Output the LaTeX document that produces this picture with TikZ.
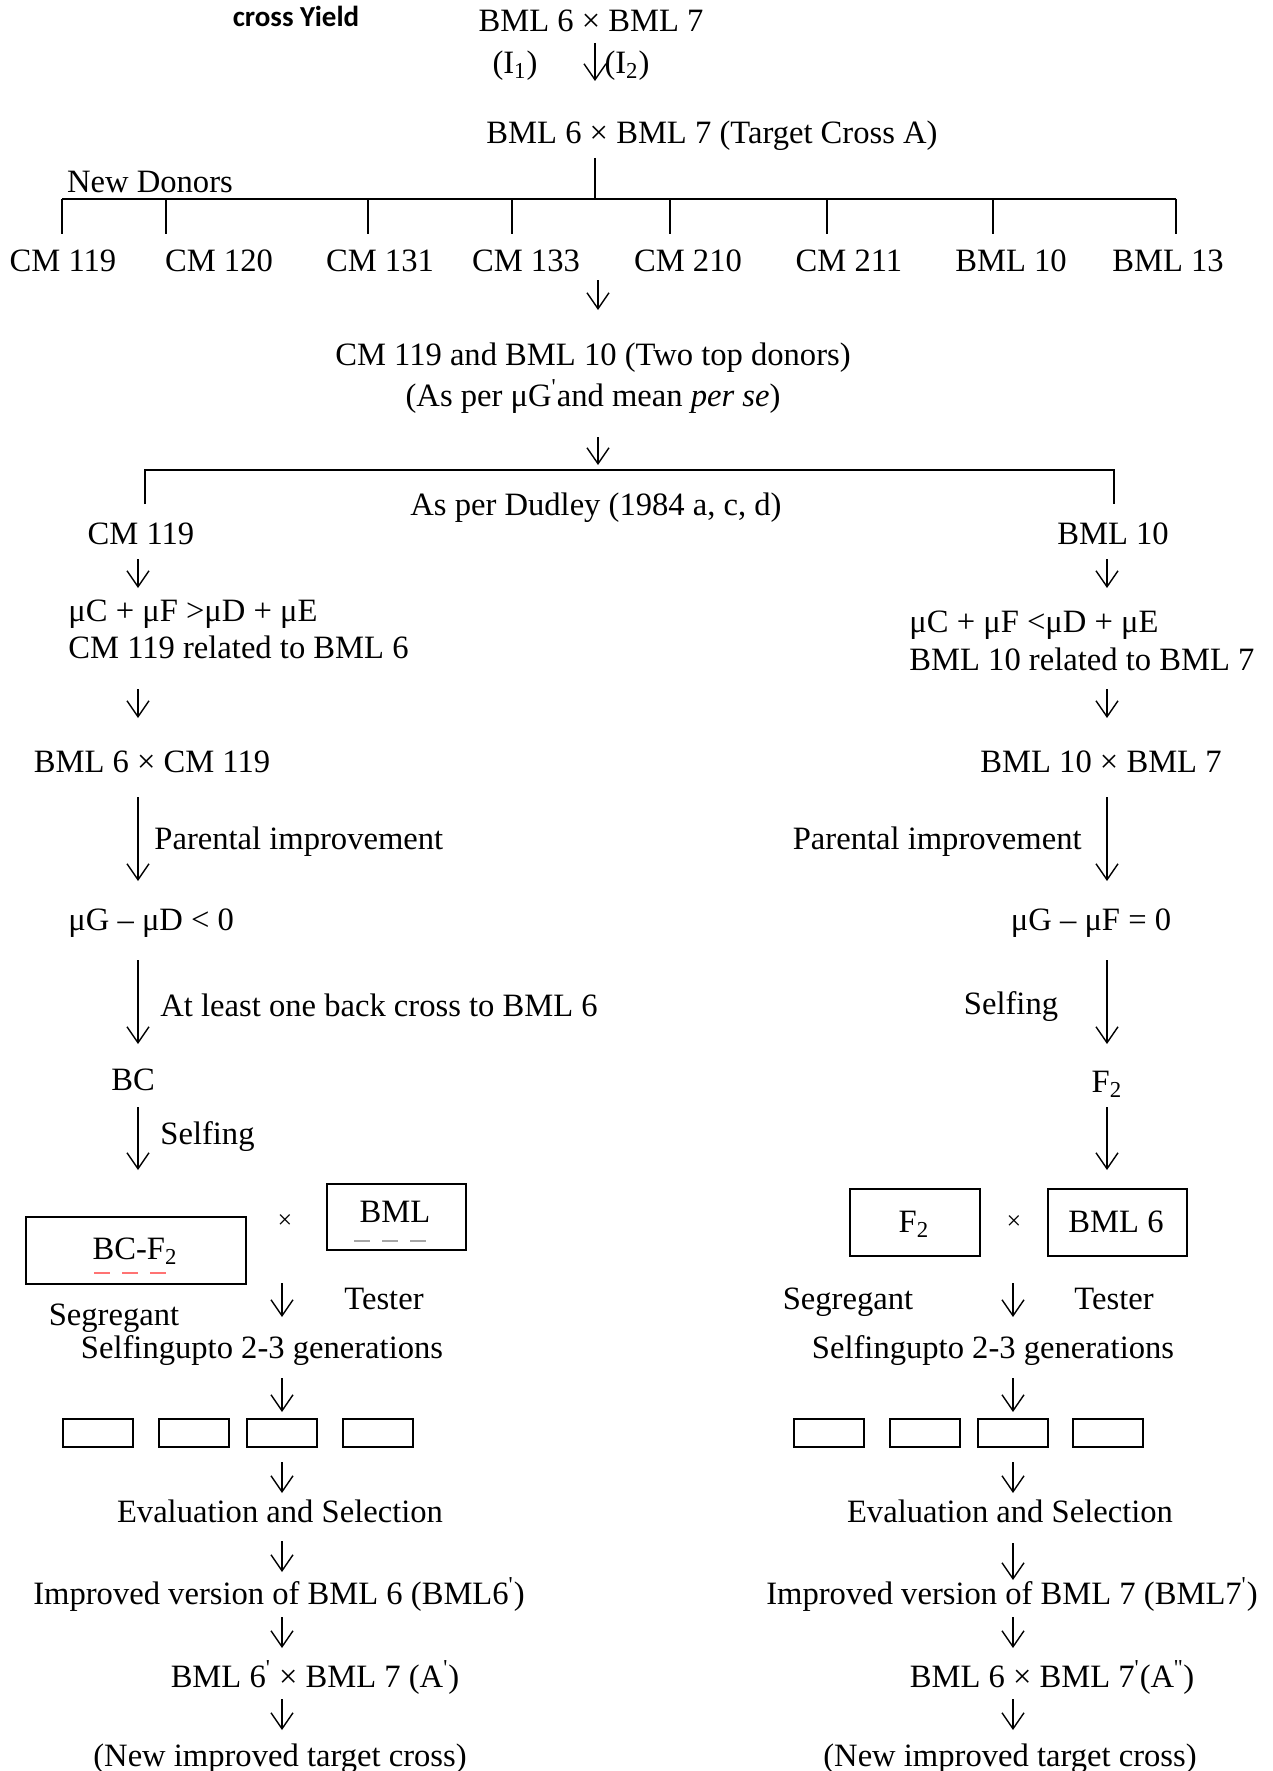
\documentclass[tikz,border=0pt]{standalone}
\usepackage{fontspec}
\setmainfont{Liberation Serif}
\newfontfamily\calb{Carlito}
\usetikzlibrary{arrows.meta}
\newcommand{\pr}{\textsuperscript{\textquotesingle}}
\begin{document}
\begin{tikzpicture}[x=0.5pt,y=-0.5pt,
  txt/.style={inner sep=0pt,anchor=mid,yshift=-2pt,font=\fontsize{16.3}{19}\selectfont},
  ltxt/.style={txt,anchor=mid west},
  rtxt/.style={txt,anchor=mid east},
  arr/.style={line width=0.7pt,-{Straight Barb[length=8pt,width=11pt,line width=0.7pt]}},
  ln/.style={line width=0.7pt},
  bx/.style={draw,line width=1pt,inner sep=0pt,anchor=north west},
  sbx/.style={draw,line width=1pt,minimum width=35pt,minimum height=14pt,inner sep=0pt},
  tick/.style={line width=0.6pt,dash pattern=on 8pt off 6pt}
]
\useasboundingbox (0,0) rectangle (1273,1771);
% ---------- top ----------
\node[inner sep=0pt,anchor=mid,font=\calb\bfseries\fontsize{14.5}{16}\selectfont] (cy) at (296,22) {cross Yield};
\node[txt] (top) at (591,23) {BML 6 × BML 7};
\node[txt] (i1) at (515,65) {(I\textsubscript{1})};
\node[txt] (i2) at (627,65) {(I\textsubscript{2})};
\node[txt] (tca) at (712,135) {BML 6 × BML 7 (Target Cross A)};
\node[txt] (nd) at (150,184) {New Donors};
\foreach \n/\x/\y in {a0s/595/43,a0e/595/81,v0s/595/158,v0e/595/199,hl/62/199,hr/1176/199,
  a1s/598/280,a1e/598/310,a2s/598/437,a2e/598/465,
  bl/145/504,blt/145/470,brt/1114/470,br/1114/504}
  {\coordinate (\n) at (\x,\y);}
\draw[arr] (a0s) -- (a0e);
\draw[ln] (v0s) -- (v0e);
\draw[ln] (hl) -- (hr);
\foreach \n/\x/\lx/\t in {d1/62/63/CM 119,d2/166/219/CM 120,d3/368/380/CM 131,d4/512/526/CM 133,
  d5/670/688/CM 210,d6/827/849/CM 211,d7/993/1011/BML 10,d8/1176/1168/BML 13}{
  \coordinate (\n t) at (\x,199);
  \coordinate (\n b) at (\x,234);
  \draw[ln] (\n t) -- (\n b);
  \node[txt] (\n l) at (\lx,263) {\t};
}
\draw[arr] (a1s) -- (a1e);
\node[txt] (two) at (593,357) {CM 119 and BML 10 (Two top donors)};
\node[txt] (asper) at (593,398) {(As per μG\pr and mean \emph{per se})};
\draw[arr] (a2s) -- (a2e);
\draw[line width=0.9pt] (bl) -- (blt) -- (brt) -- (br);
\node[txt] (dud) at (596,507) {As per Dudley (1984 a, c, d)};
% ---------- left column ----------
\node[txt] (lcm) at (141,536) {CM 119};
\node[ltxt] (lineq) at (68,613) {μC + μF >μD + μE};
\node[ltxt] (lrel) at (68,650) {CM 119 related to BML 6};
\node[txt] (lcross) at (152,764) {BML 6 × CM 119};
\node[ltxt] (lpar) at (154,841) {Parental improvement};
\node[ltxt] (lmu) at (68,922) {μG – μD < 0};
\node[ltxt] (lback) at (160,1008) {At least one back cross to BML 6};
\node[txt] (lbc) at (133,1082) {BC};
\node[ltxt] (lself) at (160,1136) {Selfing};
\node[bx,minimum width=110pt,minimum height=33.5pt] (lbox1) at (25,1216) {};
\node[txt] (lbcf) at (135,1251) {BC-F\textsubscript{2}};
\node[bx,minimum width=69.5pt,minimum height=33pt] (lbox2) at (326,1183) {};
\node[txt] (lbml) at (395,1214) {BML};
\node[txt,font=\fontsize{13}{15}\selectfont] (lx) at (285,1220) {×};
\coordinate (rd1) at (94,1273); \coordinate (rd2) at (166,1273);
\draw[tick,red!55] (rd1) -- (rd2);
\coordinate (gd1) at (354,1241); \coordinate (gd2) at (430,1241);
\draw[tick,gray!70] (gd1) -- (gd2);
\node[txt] (ltest) at (384,1301) {Tester};
\node[txt] (lseg) at (114,1317) {Segregant};
\node[txt] (lsg) at (262,1350) {Selfingupto 2-3 generations};
\foreach \n/\x in {lb1/98,lb2/194,lb3/282,lb4/378}{\node[sbx] (\n) at (\x,1433) {};}
\node[txt] (leval) at (280,1514) {Evaluation and Selection};
\node[txt] (limp) at (279,1596) {Improved version of BML 6 (BML6\pr)};
\node[txt] (lnew) at (315,1679) {BML 6\pr\ × BML 7 (A\pr)};
\node[txt] (lfin) at (280,1758) {(New improved target cross)};
\foreach \n/\a/\b in {la1/559/588,la2/689/718,la3/797/881,la4/960/1044,la5/1107/1170}{
  \coordinate (\n s) at (138,\a); \coordinate (\n e) at (138,\b);
  \draw[arr] (\n s) -- (\n e);}
\foreach \n/\a/\b in {la6/1283/1317,la7/1378/1412,la8/1462/1493,la9/1541/1572,la10/1617/1648,la11/1699/1730}{
  \coordinate (\n s) at (282,\a); \coordinate (\n e) at (282,\b);
  \draw[arr] (\n s) -- (\n e);}
% ---------- right column ----------
\node[txt] (rcm) at (1113,536) {BML 10};
\node[ltxt] (rineq) at (909,624) {μC + μF <μD + μE};
\node[ltxt] (rrel) at (909,662) {BML 10 related to BML 7};
\node[txt] (rcross) at (1101,764) {BML 10 × BML 7};
\node[rtxt] (rpar) at (1082,841) {Parental improvement};
\node[txt] (rmu) at (1091,922) {μG – μF = 0};
\node[txt] (rself) at (1011,1006) {Selfing};
\node[txt] (rf2) at (1107,1084) {F\textsubscript{2}};
\node[bx,minimum width=65pt,minimum height=33.5pt] (rbox1) at (849,1188) {};
\node[txt] (rf2b) at (914,1224) {F\textsubscript{2}};
\node[txt,font=\fontsize{13}{15}\selectfont] (rx) at (1014,1221) {×};
\node[bx,minimum width=69.5pt,minimum height=33.5pt] (rbox2) at (1047,1188) {};
\node[txt] (rbml) at (1116,1224) {BML 6};
\node[txt] (rseg) at (848,1301) {Segregant};
\node[txt] (rtest) at (1114,1301) {Tester};
\node[txt] (rsg) at (993,1350) {Selfingupto 2-3 generations};
\foreach \n/\x in {rb1/829,rb2/925,rb3/1013,rb4/1108}{\node[sbx] (\n) at (\x,1433) {};}
\node[txt] (reval) at (1010,1514) {Evaluation and Selection};
\node[txt] (rimp) at (1012,1596) {Improved version of BML 7 (BML7\pr)};
\node[txt] (rnew) at (1052,1679) {BML 6 × BML 7\pr(A\textsuperscript{\textquotesingle\textquotesingle})};
\node[txt] (rfin) at (1010,1758) {(New improved target cross)};
\foreach \n/\a/\b in {ra1/559/588,ra2/689/718,ra3/797/881,ra4/960/1044,ra5/1107/1170}{
  \coordinate (\n s) at (1107,\a); \coordinate (\n e) at (1107,\b);
  \draw[arr] (\n s) -- (\n e);}
\foreach \n/\a/\b in {ra6/1283/1317,ra7/1378/1412,ra8/1462/1493,ra9/1543/1580,ra10/1617/1648,ra11/1699/1730}{
  \coordinate (\n s) at (1013,\a); \coordinate (\n e) at (1013,\b);
  \draw[arr] (\n s) -- (\n e);}
\end{tikzpicture}
\end{document}
